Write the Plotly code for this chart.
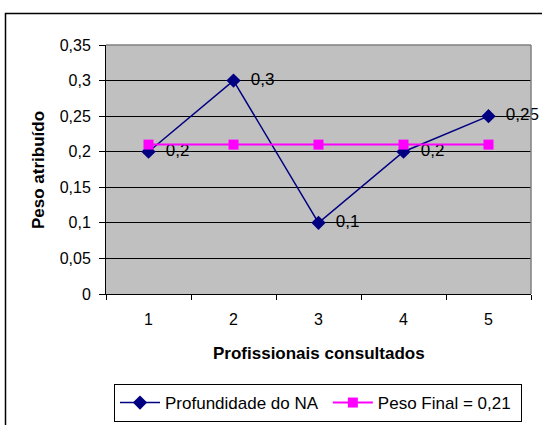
import plotly.graph_objects as go

# Categories and series values
profissionais = ["1", "2", "3", "4", "5"]
profundidade_na = [0.2, 0.3, 0.1, 0.2, 0.25]
profundidade_labels = ["0,2", "0,3", "0,1", "0,2", "0,25"]
peso_final = [0.21, 0.21, 0.21, 0.21, 0.21]

y_ticks = [0, 0.05, 0.1, 0.15, 0.2, 0.25, 0.3, 0.35]
y_tick_text = ["0", "0,05", "0,1", "0,15", "0,2", "0,25", "0,3", "0,35"]

FONT = "Liberation Sans, Arial, sans-serif"
NBSP = "\u00a0"

W, H = 542, 425
L, R, T, B = 106, 11, 45, 131
pw, ph = W - L - R, H - T - B


def px_x(p):
    return (p - L) / pw


def px_y(p):
    return (H - B - p) / ph


fig = go.Figure()

fig.add_trace(go.Scatter(
    x=profissionais, y=profundidade_na,
    name="Profundidade do NA" + NBSP,
    mode="lines+markers+text",
    text=["  " + t for t in profundidade_labels],
    textposition="middle right",
    textfont=dict(family=FONT, size=17, color="black"),
    line=dict(color="#000080", width=1.5),
    marker=dict(symbol="diamond", size=11, color="#000080"),
    cliponaxis=False,
))

fig.add_trace(go.Scatter(
    x=profissionais, y=peso_final,
    name="Peso Final = 0,21" + NBSP,
    mode="lines+markers",
    line=dict(color="#FF00FF", width=2),
    marker=dict(symbol="square", size=10, color="#FF00FF"),
))

fig.update_layout(
    width=W, height=H,
    margin=dict(l=L, r=R, t=T, b=B, autoexpand=False),
    paper_bgcolor="white",
    plot_bgcolor="#C0C0C0",
    font=dict(family=FONT, size=16, color="black"),
    showlegend=True,
    legend=dict(
        orientation="h",
        xref="container", yref="container",
        x=114 / W, y=1 - 384 / H,
        xanchor="left", yanchor="top",
        bordercolor="black", borderwidth=1,
        bgcolor="white",
        font=dict(family=FONT, size=17, color="black"),
        itemwidth=40,
        tracegroupgap=0,
    ),
    xaxis=dict(
        type="category",
        range=[-0.5, 4.5],
        tickson="boundaries",
        ticks="outside", ticklen=5, tickcolor="black",
        ticklabelstandoff=11,
        showgrid=False,
        showline=True, linecolor="black", linewidth=1,
        tickfont=dict(size=16),
        zeroline=False,
        fixedrange=True,
    ),
    yaxis=dict(
        range=[0, 0.35],
        tickvals=y_ticks, ticktext=y_tick_text,
        ticks="outside", ticklen=6, tickcolor="black",
        ticklabelstandoff=5,
        showgrid=True, gridcolor="black", gridwidth=1,
        showline=True, linecolor="black", linewidth=1,
        tickfont=dict(size=16),
        zeroline=False,
        fixedrange=True,
    ),
    shapes=[
        # plot area frame (top and right edges)
        dict(type="line", xref="paper", yref="paper", x0=0, x1=1, y0=1, y1=1,
             line=dict(color="#808080", width=1.5)),
        dict(type="line", xref="paper", yref="paper", x0=1, x1=1, y0=0, y1=1,
             line=dict(color="#808080", width=1.5)),
        # chart border
        dict(type="rect", xref="paper", yref="paper",
             x0=px_x(5.5), x1=px_x(600), y0=px_y(500), y1=px_y(13.5),
             line=dict(color="black", width=1.5), layer="below"),
    ],
    annotations=[
        dict(text="<b>Peso atribuído</b>", xref="paper", yref="paper",
             x=px_x(38), y=px_y(170), textangle=-90, showarrow=False,
             xanchor="center", yanchor="middle",
             font=dict(family=FONT, size=17, color="black")),
        dict(text="<b>Profissionais consultados</b>", xref="paper", yref="paper",
             x=px_x(318.5), y=px_y(353), showarrow=False,
             xanchor="center", yanchor="middle",
             font=dict(family=FONT, size=17, color="black")),
    ],
)

fig.write_html("out.html")
